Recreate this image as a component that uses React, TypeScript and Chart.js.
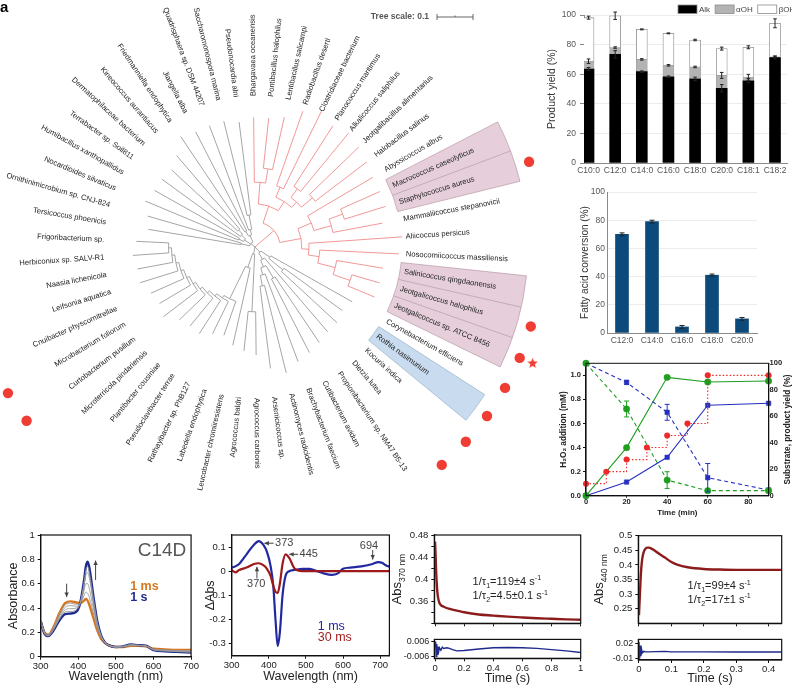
import React, { useEffect, useRef } from 'react';
import { Chart, registerables } from 'chart.js';

Chart.register(...registerables);

const FONT = '"Liberation Sans", Arial, Helvetica, sans-serif';
Chart.defaults.font.family = FONT;

// ---------------- DATA: phylogenetic tree ----------------
const TREE_LEAVES = [
  'Tersicoccus phoenicis', 'Ornithinimicrobium sp. CNJ-824', 'Nocardioides silvaticus', 'Humibacillus xanthopallidus',
  'Terrabacter sp. Soil811', 'Dermatophilaceae bacterium', 'Kineococcus aurantiacus', 'Friedmanniella endophytica',
  'Jiangella alba', 'Quadrisphaera sp. DSM 44207', 'Saccharomonospora marina', 'Pseudonocardia alni',
  'Bhargavaea oceanensis', 'Pontibacillus halophilus', 'Lentibacillus salicampi', 'Radiobacillus deserti',
  'Clostridiaceae bacterium', 'Planococcus maritimus', 'Alkalicoccus saliphilus', 'Jeotgalibacillus alimentarius',
  'Halobacillus salinus', 'Abyssicoccus albus', 'Macrococcus caseolyticus', 'Staphylococcus aureus',
  'Mammaliicoccus stepanovicii', 'Aliicoccus persicus', 'Nosocomiicoccus massiliensis', 'Salinicoccus qingdaonensis',
  'Jeotgalicoccus halophilus', 'Jeotgalicoccus sp. ATCC 8456', 'Corynebacterium efficiens', 'Rothia nasimurium',
  'Kocuria indica', 'Dietzia lutea', 'Propionibacterium sp. NM47 B5-13', 'Cutibacterium avidum',
  'Brachybacterium faecium', 'Actinomyces radicidentis', 'Arsenicicoccus sp.', 'Agrococcus carbonis',
  'Agrococcus baldri', 'Leucobacter chromiiresistens', 'Labedella endophytica', 'Rathayibacter sp. PhB127',
  'Pseudoclavibacter terrae', 'Plantibacter cousiniae', 'Microterricola pindariensis', 'Curtobacterium pusillum',
  'Microbacterium foliorum', 'Cnuibacter physcomitrellae', 'Leifsonia aquatica', 'Naasia lichenicola',
  'Herbiconiux sp. SALV-R1', 'Frigoribacterium sp.',
];
// Newick clades (leaf = index into TREE_LEAVES, branch lengths in substitutions/site)
const CLADE_ACTINO_A = '((0:0.26,1:0.27):0.025,((2:0.28,3:0.27):0.015,(4:0.27,(5:0.25,6:0.27):0.015):0.015):0.02,((7:0.32,8:0.31):0.015,(9:0.31,(10:0.27,11:0.26):0.04):0.015):0.02):0.015';
const CLADE_BACILLOTA = '(((12:0.18,(13:0.14,14:0.15):0.04):0.06,((15:0.22,16:0.24):0.03,((17:0.2,18:0.21):0.03,(19:0.19,20:0.18):0.04):0.02):0.03):0.05,((21:0.21,((22:0.12,23:0.12):0.04,24:0.14):0.05):0.04,(25:0.26,(26:0.22,(27:0.13,(28:0.08,29:0.08):0.05):0.05):0.03):0.02):0.06):0.07';
const CLADE_ACTINO_B = '((30:0.26,(31:0.2,32:0.21):0.05):0.03,(33:0.27,((34:0.22,35:0.23):0.04,(36:0.26,(37:0.25,38:0.23):0.03):0.02):0.02):0.02):0.02';
const CLADE_MICROBACT = '((39:0.12,40:0.11):0.16,(41:0.22,(42:0.1,(43:0.1,(44:0.11,(45:0.1,(46:0.1,(47:0.12,(48:0.1,(49:0.1,(50:0.11,(51:0.1,(52:0.1,53:0.09):0.008):0.008):0.008):0.008):0.008):0.008):0.008):0.008):0.008):0.008):0.1):0.04):0.02';
const TREE_NEWICK = '(' + [CLADE_ACTINO_A, CLADE_BACILLOTA, CLADE_ACTINO_B, CLADE_MICROBACT].join(',') + ');';
const RED_CLADE_FIRST = 'Bhargavaea oceanensis';
const RED_CLADE_LAST = 'Jeotgalicoccus sp. ATCC 8456';
const PINK_RANGES = [['Macrococcus caseolyticus', 'Staphylococcus aureus'], ['Salinicoccus qingdaonensis', 'Jeotgalicoccus sp. ATCC 8456']];
const BLUE_RANGES = [['Rothia nasimurium', 'Rothia nasimurium']];
const DOT_LEAVES = ['Staphylococcus aureus', 'Jeotgalicoccus halophilus', 'Jeotgalicoccus sp. ATCC 8456', 'Corynebacterium efficiens',
  'Rothia nasimurium', 'Kocuria indica', 'Dietzia lutea', 'Curtobacterium pusillum', 'Microbacterium foliorum'];
const STAR_LEAVES = ['Jeotgalicoccus sp. ATCC 8456'];
const TREE_SCALE = 0.1;

// ---------------- DATA: product yield ----------------
const FA_CATEGORIES = ['C10:0', 'C12:0', 'C14:0', 'C16:0', 'C18:0', 'C20:0', 'C18:1', 'C18:2'];
const ALK = [63.5, 73.4, 61.7, 58.3, 56.8, 50.5, 55.6, 71.2];
const ALPHA_OH = [5.3, 4.6, 8.3, 7.7, 8.1, 8.7, 2.3, 0.6];
const BETA_OH = [29.4, 21.5, 20.3, 21.6, 18.2, 18.1, 20.3, 22.6];
const ALK_ERR = [1, 2.5, 0.5, 0.5, 1.2, 2.5, 1.5, 1];
const ALPHA_OH_ERR = [1.5, 0.5, 0.5, 0.5, 0.5, 2, 2, 0.5];
const BETA_OH_ERR = [1, 2.5, 0.3, 0.3, 0.5, 1, 1, 3];

// ---------------- DATA: conversion ----------------
const CONV_CATEGORIES = ['C12:0', 'C14:0', 'C16:0', 'C18:0', 'C20:0'];
const CONVERSION = [70, 79, 4.3, 41, 10];
const CONVERSION_ERR = [1, 1, 1, 0.8, 1];

// ---------------- DATA: H2O2 time course ----------------
const TIME_MIN = [0, 20, 40, 60, 90];
const H2O2_TIME = [0, 10, 20, 30, 40, 50, 60, 90];
const H2O2_ADDED = [0.1, 0.2, 0.3, 0.4, 0.5, 0.6, 1.0, 1.0];
const GREEN_PRODUCT = [0, 36.3, 89.4, 85.9, 86.6];
const GREEN_SUBSTRATE = [100, 65.5, 11.8, 3.8, 3.8];
const GREEN_SUBSTRATE_ERR = [0, 6, 6.3, 0, 0];
const BLUE_PRODUCT = [0, 10.3, 29, 68.3, 69.8];
const BLUE_SUBSTRATE = [100, 85.6, 63, 13.6, 4.3];
const BLUE_SUBSTRATE_ERR = [0, 1.5, 6, 10.7, 0];

// ---------------- DATA: spectra ----------------
const WAVELENGTH_NM = [300, 310, 320, 335, 350, 365, 380, 395, 405, 415, 420, 425, 430, 440, 450, 460, 470, 480, 500, 520, 540, 560, 580, 600, 630, 660, 700];
const ABS_1MS = [0.29, 0.2, 0.18, 0.25, 0.36, 0.44, 0.455, 0.445, 0.44, 0.46, 0.475, 0.46, 0.42, 0.32, 0.22, 0.15, 0.115, 0.095, 0.08, 0.08, 0.09, 0.09, 0.085, 0.065, 0.06, 0.055, 0.055];
const ABS_MID_1 = [0.29, 0.2, 0.18, 0.245, 0.35, 0.425, 0.44, 0.43, 0.44, 0.5, 0.53, 0.52, 0.48, 0.36, 0.24, 0.16, 0.118, 0.095, 0.08, 0.082, 0.092, 0.091, 0.086, 0.062, 0.056, 0.051, 0.05];
const ABS_MID_2 = [0.29, 0.2, 0.175, 0.24, 0.335, 0.405, 0.42, 0.415, 0.44, 0.54, 0.6, 0.6, 0.55, 0.4, 0.26, 0.17, 0.12, 0.095, 0.08, 0.083, 0.094, 0.092, 0.087, 0.06, 0.052, 0.047, 0.045];
const ABS_MID_3 = [0.29, 0.195, 0.173, 0.232, 0.32, 0.385, 0.395, 0.4, 0.44, 0.58, 0.67, 0.69, 0.64, 0.45, 0.28, 0.175, 0.12, 0.095, 0.08, 0.084, 0.097, 0.093, 0.088, 0.058, 0.049, 0.044, 0.04];
const ABS_MID_4 = [0.29, 0.19, 0.171, 0.226, 0.31, 0.368, 0.372, 0.385, 0.44, 0.6, 0.71, 0.74, 0.68, 0.48, 0.29, 0.178, 0.12, 0.095, 0.08, 0.085, 0.099, 0.094, 0.089, 0.056, 0.047, 0.042, 0.037];
const ABS_1S = [0.29, 0.19, 0.17, 0.22, 0.3, 0.35, 0.355, 0.37, 0.44, 0.62, 0.74, 0.78, 0.72, 0.5, 0.3, 0.18, 0.12, 0.095, 0.08, 0.085, 0.1, 0.095, 0.09, 0.055, 0.045, 0.04, 0.035];

const DIFF_WL = [300, 310, 320, 340, 360, 373, 385, 395, 405, 412, 418, 424, 430, 437, 445, 455, 470, 490, 510, 530, 550, 570, 585, 600, 620, 650, 680, 695, 705, 715, 725];
const DIFF_1MS = [0.015, 0.02, 0.03, 0.07, 0.11, 0.125, 0.11, 0.08, 0.02, -0.06, -0.2, -0.31, -0.25, -0.1, -0.02, 0.0, 0.005, 0.01, 0.01, 0.0, -0.01, -0.015, -0.01, 0.01, 0.015, 0.02, 0.03, 0.038, 0.035, 0.025, 0.018];
const DIFF_30MS = [0.005, -0.005, 0.005, 0.015, 0.03, 0.033, 0.025, 0.01, -0.02, -0.06, -0.085, -0.09, -0.05, 0.03, 0.07, 0.055, 0.01, 0.0, 0.0, 0.0, 0.0, 0.0, 0.0, 0.0, 0.0, 0.0, 0.0, 0.0, 0.0, 0.0, 0.0];

// ---------------- DATA: kinetics ----------------
const T370 = [0, 0.003, 0.006, 0.01, 0.015, 0.02, 0.03, 0.04, 0.06, 0.1, 0.15, 0.2, 0.3, 0.4, 0.5, 0.6, 0.7, 0.8, 0.9, 1.0];
const A370 = [0.468, 0.45, 0.425, 0.4, 0.38, 0.368, 0.357, 0.353, 0.35, 0.346, 0.343, 0.34, 0.336, 0.334, 0.332, 0.3305, 0.3292, 0.3282, 0.3272, 0.3265];
const RT370 = [0, 0.004, 0.008, 0.012, 0.016, 0.02, 0.025, 0.03, 0.04, 0.05, 0.06, 0.08, 0.1, 0.12, 0.15, 0.2, 0.3, 0.4, 0.5, 0.6, 0.7, 0.8, 0.9, 1.0];
const R370 = [0.002, 0.006, -0.006, 0.004, -0.004, 0.002, -0.002, 0.001, -0.001, 0.0015, 0.0005, 0.001, 0.0005, -0.0005, -0.0015, -0.0012, 0.0, 0.001, 0.0012, 0.001, 0.0005, -0.0005, -0.0015, -0.0028];
const T440 = [0, 0.003, 0.006, 0.01, 0.015, 0.02, 0.025, 0.03, 0.04, 0.05, 0.06, 0.08, 0.1, 0.12, 0.15, 0.2, 0.25, 0.3, 0.35, 0.4, 0.44];
const A440 = [0.228, 0.3, 0.37, 0.42, 0.445, 0.455, 0.459, 0.459, 0.455, 0.448, 0.44, 0.425, 0.41, 0.4, 0.392, 0.386, 0.384, 0.383, 0.383, 0.383, 0.383];
const RT440 = [0, 0.002, 0.004, 0.006, 0.008, 0.01, 0.015, 0.02, 0.03, 0.05, 0.08, 0.1, 0.15, 0.2, 0.3, 0.44];
const R440 = [0.022, -0.01, 0.015, -0.005, 0.008, 0.001, 0.004, 0.003, 0.003, 0.0035, 0.004, 0.003, 0.003, 0.003, 0.0028, 0.0028];

// ---------------- layout ----------------
const BOXES: Record<string, number[]> = {
  tree: [0, 0, 548, 510],
  yield: [538, 0, 254, 180],
  conv: [570, 180, 200, 170],
  h2o2: [555, 355, 237, 165],
  abs: [0, 525, 200, 162],
  diff: [195, 525, 200, 162],
  k370: [390, 525, 200, 107],
  r370: [390, 632, 200, 55],
  k440: [590, 525, 202, 107],
  r440: [590, 632, 202, 55],
};
const TREE_START_DEG = 170.6;
const TREE_PX_PER_UNIT = 360;
const LABEL_R = 151;
const SECTOR_R = [147, 273];
const DOT_R = 287;
const STAR_R = 301;

// ---------------- helpers ----------------
const fixedTicks = (values: number[]) => (s: any) => { s.ticks = values.map((v) => ({ value: v })); };
const fitW = (w: number) => (s: any) => { s.width = w; };
const fitH = (h: number) => (s: any) => { s.height = h; };
const fmt = (v: any) => String(Math.round(Number(v) * 10000) / 10000);
const rad = (d: number) => (d * Math.PI) / 180;
const leafAngle = (k: number) => rad(TREE_START_DEG - (360 / TREE_LEAVES.length) * k);

function parseNewick(s: string) {
  let i = 0;
  const node = (): any => {
    const n: any = { len: 0, children: [] };
    if (s[i] === '(') {
      i++;
      n.children.push(node());
      while (s[i] === ',') { i++; n.children.push(node()); }
      i++;
    } else {
      let t = '';
      while (/[0-9]/.test(s[i])) t += s[i++];
      n.leaf = parseInt(t, 10);
    }
    if (s[i] === ':') {
      i++;
      let t = '';
      while (/[0-9.eE\-]/.test(s[i])) t += s[i++];
      n.len = parseFloat(t);
    }
    return n;
  };
  return node();
}

function buildTree() {
  const root = parseNewick(TREE_NEWICK);
  const ra = TREE_LEAVES.indexOf(RED_CLADE_FIRST);
  const rb = TREE_LEAVES.indexOf(RED_CLADE_LAST);
  const walk = (n: any, r0: number) => {
    n.r = r0 + n.len;
    if (n.leaf !== undefined) { n.a = leafAngle(n.leaf); n.lo = n.hi = n.leaf; }
    else {
      n.children.forEach((c: any) => walk(c, n.r));
      const f = n.children[0], l = n.children[n.children.length - 1];
      n.a = (f.a + l.a) / 2; n.lo = f.lo; n.hi = l.hi;
    }
    n.red = n.lo >= ra && n.hi <= rb;
  };
  walk(root, 0);
  return root;
}

function starCanvas(size: number, color: string) {
  const c = document.createElement('canvas');
  c.width = size; c.height = size;
  const g = c.getContext('2d')!;
  g.fillStyle = color;
  g.beginPath();
  for (let i = 0; i < 10; i++) {
    const r = i % 2 === 0 ? size / 2 : size / 4.6;
    const a = -Math.PI / 2 + (i * Math.PI) / 5;
    g.lineTo(size / 2 + r * Math.cos(a), size / 2 + r * Math.sin(a));
  }
  g.closePath(); g.fill();
  return c;
}

function drawRich(ctx: any, x: number, y: number, parts: any[], size: number, color: string, align = 'left', weight = '') {
  ctx.save();
  ctx.fillStyle = color;
  ctx.textBaseline = 'alphabetic';
  ctx.textAlign = 'left';
  const fontFor = (m: string) => `${weight} ${m === 'n' ? size : size * 0.65}px ${FONT}`;
  let total = 0;
  parts.forEach(([t, m]) => { ctx.font = fontFor(m); total += ctx.measureText(t).width; });
  let cx = align === 'center' ? x - total / 2 : x;
  parts.forEach(([t, m]) => {
    ctx.font = fontFor(m);
    const dy = m === 'sub' ? size * 0.28 : m === 'sup' ? -size * 0.42 : 0;
    ctx.fillText(t, cx, y + dy);
    cx += ctx.measureText(t).width;
  });
  ctx.restore();
}

function arrow(ctx: any, x1: number, y1: number, x2: number, y2: number, color = '#444') {
  ctx.save();
  ctx.strokeStyle = color; ctx.fillStyle = color; ctx.lineWidth = 1;
  ctx.beginPath(); ctx.moveTo(x1, y1); ctx.lineTo(x2, y2); ctx.stroke();
  const ang = Math.atan2(y2 - y1, x2 - x1), h = 5;
  ctx.beginPath(); ctx.moveTo(x2, y2);
  ctx.lineTo(x2 - h * Math.cos(ang - 0.45), y2 - h * Math.sin(ang - 0.45));
  ctx.lineTo(x2 - h * Math.cos(ang + 0.45), y2 - h * Math.sin(ang + 0.45));
  ctx.closePath(); ctx.fill();
  ctx.restore();
}

const framePlugin = {
  id: 'frame',
  afterDatasetsDraw(chart: any, _a: any, opts: any) {
    const { ctx, chartArea: a } = chart;
    ctx.save();
    ctx.strokeStyle = (opts && opts.color) || '#111';
    ctx.lineWidth = (opts && opts.width) || 1.2;
    ctx.strokeRect(a.left, a.top, a.right - a.left, a.bottom - a.top);
    ctx.restore();
  },
};

const errorBarPlugin = {
  id: 'errbars',
  afterDatasetsDraw(chart: any) {
    const ctx = chart.ctx;
    chart.data.datasets.forEach((ds: any, di: number) => {
      if (!ds.errors) return;
      const meta = chart.getDatasetMeta(di);
      const ys = chart.scales[meta.yAxisID];
      ctx.save();
      ctx.strokeStyle = ds.errorColor || '#000';
      ctx.lineWidth = 1;
      const cap = ds.errorCap || 2.5;
      meta.data.forEach((el: any, i: number) => {
        const e = ds.errors[i];
        if (!e) return;
        const d = Math.abs(ys.getPixelForValue(e) - ys.getPixelForValue(0));
        const x = el.x, y = el.y;
        ctx.beginPath();
        ctx.moveTo(x, y - d); ctx.lineTo(x, y + d);
        ctx.moveTo(x - cap, y - d); ctx.lineTo(x + cap, y - d);
        ctx.moveTo(x - cap, y + d); ctx.lineTo(x + cap, y + d);
        ctx.stroke();
      });
      ctx.restore();
    });
  },
};

function baseOptions(pad: any, scales: any, plugins: any = {}) {
  return {
    animation: false, responsive: false, devicePixelRatio: 1, events: [],
    layout: { padding: pad, autoPadding: false },
    plugins: { legend: { display: false }, tooltip: { enabled: false }, ...plugins },
    scales,
  };
}

function frameAxis(o: any) {
  return {
    type: 'linear', position: o.position, min: o.min, max: o.max, display: true,
    afterBuildTicks: fixedTicks(o.ticks),
    afterFit: o.horizontal ? fitH(o.size) : fitW(o.size),
    ticks: {
      display: o.labels !== false, color: '#222', font: { size: o.fontSize || 9.5 }, padding: o.pad ?? 2,
      maxRotation: 0, autoSkip: false,
      callback: o.callback || ((v: any) => (o.major && !o.major.includes(v) ? '' : fmt(v))),
    },
    grid: { display: true, drawOnChartArea: false, drawTicks: true, tickLength: o.tickLen ?? 4, tickColor: '#111', tickWidth: 1 },
    border: { display: true, color: '#111', width: 1.2 },
    title: o.title
      ? { display: true, text: o.title, color: '#222', font: { size: o.titleSize || 12.5, weight: o.titleWeight || 'normal' }, padding: o.titlePad || { top: 4, bottom: 4 } }
      : { display: false },
  };
}

const pts = (xs: number[], ys: number[]) => xs.map((x, i) => ({ x, y: ys[i] }));
function curve(xs: number[], ys: number[], color: string, width: number, smooth = true, extra: any = {}) {
  return {
    data: pts(xs, ys), showLine: true, borderColor: color, borderWidth: width, pointRadius: 0,
    tension: smooth ? 0.4 : 0, cubicInterpolationMode: smooth ? 'monotone' : 'default', ...extra,
  };
}

// ---------------- chart configs ----------------
function treeConfig() {
  const root = buildTree();
  const GREY = '#9b9b9b', RED = '#f08c8c';
  const polar = (r: number, name: string) => {
    const a = leafAngle(TREE_LEAVES.indexOf(name));
    return { x: r * Math.cos(a), y: r * Math.sin(a) };
  };
  const treePlugin = {
    id: 'tree',
    beforeDatasetsDraw(chart: any) {
      const { ctx } = chart;
      const xs = chart.scales.x, ys = chart.scales.y;
      const cx = xs.getPixelForValue(0), cy = ys.getPixelForValue(0);
      const k = xs.getPixelForValue(1) - xs.getPixelForValue(0);
      const P = (r: number, a: number) => [cx + r * k * Math.cos(a), cy - r * k * Math.sin(a)];
      const step = rad(360 / TREE_LEAVES.length);
      ctx.save();
      const sector = (range: string[], fill: string, edge: string) => {
        const k0 = TREE_LEAVES.indexOf(range[0]), k1 = TREE_LEAVES.indexOf(range[1]);
        const a0 = leafAngle(k0) + step / 2, a1 = leafAngle(k1) - step / 2;
        ctx.beginPath();
        ctx.arc(cx, cy, SECTOR_R[1] * k, -a0, -a1, false);
        ctx.arc(cx, cy, SECTOR_R[0] * k, -a1, -a0, true);
        ctx.closePath();
        ctx.fillStyle = fill; ctx.fill();
        ctx.strokeStyle = edge; ctx.lineWidth = 0.7; ctx.stroke();
        for (let j = k0 + 1; j <= k1; j++) {
          const a = leafAngle(j) + step / 2;
          const p0 = P(SECTOR_R[0], a), p1 = P(SECTOR_R[1], a);
          ctx.beginPath(); ctx.moveTo(p0[0], p0[1]); ctx.lineTo(p1[0], p1[1]); ctx.stroke();
        }
      };
      PINK_RANGES.forEach((r) => sector(r, '#e6cfda', '#b89aa8'));
      BLUE_RANGES.forEach((r) => sector(r, '#c9dcef', '#98b0c8'));
      ctx.lineWidth = 0.9;
      const U = TREE_PX_PER_UNIT;
      const drawNode = (n: any) => {
        if (!n.children.length) return;
        const f = n.children[0], l = n.children[n.children.length - 1];
        if (n.r > 0) {
          ctx.strokeStyle = n.red ? RED : GREY;
          ctx.beginPath(); ctx.arc(cx, cy, n.r * U * k, -f.a, -l.a, false); ctx.stroke();
        }
        n.children.forEach((c: any) => {
          ctx.strokeStyle = c.red ? RED : GREY;
          const p0 = P(n.r * U, c.a), p1 = P(c.r * U, c.a);
          ctx.beginPath(); ctx.moveTo(p0[0], p0[1]); ctx.lineTo(p1[0], p1[1]); ctx.stroke();
          drawNode(c);
        });
      };
      drawNode(root);
      ctx.fillStyle = '#222';
      ctx.font = `7.6px ${FONT}`;
      ctx.textBaseline = 'middle';
      TREE_LEAVES.forEach((name, i) => {
        const a = leafAngle(i);
        const p = P(LABEL_R, a);
        ctx.save();
        ctx.translate(p[0], p[1]);
        if (Math.cos(a) > -0.05) { ctx.rotate(-a); ctx.textAlign = 'left'; }
        else { ctx.rotate(-a + Math.PI); ctx.textAlign = 'right'; }
        ctx.fillText(name, 0, 0);
        ctx.restore();
      });
      ctx.font = `bold 8.5px ${FONT}`;
      ctx.fillStyle = '#555';
      ctx.textAlign = 'right';
      ctx.fillText(`Tree scale: ${TREE_SCALE}`, 429, 17);
      const x0 = 437, x1 = x0 + TREE_SCALE * U * k;
      ctx.strokeStyle = '#555'; ctx.lineWidth = 0.9;
      ctx.beginPath();
      ctx.moveTo(x0, 17); ctx.lineTo(x1, 17);
      ctx.moveTo(x0, 14); ctx.lineTo(x0, 20);
      ctx.moveTo(x1, 14); ctx.lineTo(x1, 20);
      ctx.moveTo((x0 + x1) / 2, 15.5); ctx.lineTo((x0 + x1) / 2, 17);
      ctx.stroke();
      ctx.fillStyle = '#000';
      ctx.font = `bold 15px ${FONT}`;
      ctx.textAlign = 'left';
      ctx.textBaseline = 'alphabetic';
      ctx.fillText('a', 0, 12);
      ctx.restore();
    },
  };
  return {
    type: 'scatter',
    data: {
      datasets: [
        { data: DOT_LEAVES.map((n) => polar(DOT_R, n)), pointRadius: 5.2, pointBackgroundColor: '#ef3d33', pointBorderWidth: 0, clip: false },
        { data: STAR_LEAVES.map((n) => polar(STAR_R, n)), pointStyle: starCanvas(11, '#ef3d33'), pointRadius: 6, clip: false },
      ],
    },
    options: baseOptions(0, {
      x: { type: 'linear', display: false, min: -255, max: 293 },
      y: { type: 'linear', display: false, min: -263, max: 247 },
    }),
    plugins: [treePlugin],
  };
}

function yieldConfig() {
  const legendPlugin = {
    id: 'yieldLegend',
    afterDraw(chart: any) {
      const { ctx, chartArea } = chart;
      ctx.save();
      ctx.font = `8px ${FONT}`;
      ctx.textBaseline = 'middle';
      let x = chartArea.left + 94;
      chart.data.datasets.forEach((ds: any) => {
        ctx.fillStyle = ds.backgroundColor;
        ctx.fillRect(x, 5, 19, 8.5);
        ctx.strokeStyle = '#8c8c8c'; ctx.lineWidth = 0.8;
        ctx.strokeRect(x, 5, 19, 8.5);
        x += 21;
        ctx.fillStyle = '#444';
        ctx.fillText(ds.label, x, 9.5);
        x += ctx.measureText(ds.label).width + 5;
      });
      ctx.restore();
    },
  };
  const mk = (label: string, vals: number[], errs: number[], bg: string, border: string, bw: number) => ({
    label, data: vals.map((y, i) => ({ x: i, y })), backgroundColor: bg, borderColor: border, borderWidth: bw,
    barThickness: 11, errors: errs, errorColor: '#222', errorCap: 1.8,
  });
  return {
    type: 'bar',
    data: {
      datasets: [
        mk('Alk', ALK, ALK_ERR, '#000000', '#000000', 0),
        mk('αOH', ALPHA_OH, ALPHA_OH_ERR, '#b3b3b3', '#9a9a9a', 0.6),
        mk('βOH', BETA_OH, BETA_OH_ERR, '#ffffff', '#8c8c8c', 0.8),
      ],
    },
    options: baseOptions({ left: 0, right: 5, top: 15, bottom: 0 }, {
      x: {
        type: 'linear', stacked: true, min: -0.17, max: 7.45, offset: false,
        afterBuildTicks: fixedTicks(FA_CATEGORIES.map((_, i) => i)),
        afterFit: fitH(17),
        ticks: { color: '#555', font: { size: 8.5 }, padding: 3, maxRotation: 0, autoSkip: false, callback: (v: any) => FA_CATEGORIES[v] ?? '' },
        grid: { display: false, drawTicks: false },
        border: { display: true, color: '#8a8a8a', width: 1 },
      },
      y: {
        stacked: true, min: 0, max: 100,
        afterBuildTicks: fixedTicks([0, 20, 40, 60, 80, 100]),
        afterFit: fitW(46),
        ticks: { color: '#555', font: { size: 8.5 }, padding: 4 },
        grid: { color: '#ececec', drawTicks: true, tickLength: 4, tickColor: '#8a8a8a' },
        border: { display: true, color: '#8a8a8a', width: 1 },
        title: { display: true, text: 'Product yield (%)', color: '#333', font: { size: 10.5 }, padding: { top: 8, bottom: 0 } },
      },
    }),
    plugins: [errorBarPlugin, legendPlugin],
  };
}

function convConfig() {
  return {
    type: 'bar',
    data: {
      labels: CONV_CATEGORIES,
      datasets: [{ data: CONVERSION, backgroundColor: '#0b4a7a', barThickness: 13, errors: CONVERSION_ERR, errorColor: '#222', errorCap: 2.5 }],
    },
    options: baseOptions({ left: 0, right: 13, top: 12, bottom: 0 }, {
      x: {
        afterFit: fitH(17),
        ticks: { color: '#555', font: { size: 8.5 }, padding: 3, maxRotation: 0 },
        grid: { display: false, drawTicks: false },
        border: { display: true, color: '#8a8a8a', width: 1 },
      },
      y: {
        min: 0, max: 100,
        afterBuildTicks: fixedTicks([0, 20, 40, 60, 80, 100]),
        afterFit: fitW(37),
        ticks: { color: '#555', font: { size: 8.5 }, padding: 2 },
        grid: { color: '#ececec', drawTicks: false },
        border: { display: true, color: '#8a8a8a', width: 1 },
        title: { display: true, text: 'Fatty acid conversion (%)', color: '#333', font: { size: 10 }, padding: { top: 9, bottom: 0 } },
      },
    }),
    plugins: [errorBarPlugin],
  };
}

function h2o2Config() {
  const GREEN = '#1f9e1f', BLUE = '#2530c0', RED = '#ee2a2a';
  const line = (ys: number[], color: string, dashed: boolean, style: string, errs?: number[]) => ({
    data: pts(TIME_MIN, ys), yAxisID: 'y2', showLine: true, borderColor: color, borderWidth: 1.1,
    borderDash: dashed ? [4, 3] : [], pointStyle: style, pointRadius: 3.2, pointBackgroundColor: color,
    pointBorderColor: color, pointBorderWidth: 0.5, clip: false, errors: errs, errorColor: color, errorCap: 2.5,
  });
  const rightTitle = {
    id: 'rightTitle',
    afterDraw(chart: any) {
      const { ctx, chartArea: a } = chart;
      ctx.save();
      ctx.translate(chart.width - 4.5, (a.top + a.bottom) / 2);
      ctx.rotate(-Math.PI / 2);
      ctx.font = `bold 8.3px ${FONT}`;
      ctx.fillStyle = '#222';
      ctx.textAlign = 'center';
      ctx.textBaseline = 'middle';
      ctx.fillText('Substrate, product yield (%)', 0, 0);
      ctx.restore();
    },
  };
  return {
    type: 'scatter',
    data: {
      datasets: [
        {
          data: pts(H2O2_TIME, H2O2_ADDED), yAxisID: 'y', showLine: true, stepped: 'before', borderColor: RED,
          borderWidth: 1.1, borderDash: [1.5, 2], pointRadius: 3, pointBackgroundColor: RED, pointBorderWidth: 0, clip: false,
        },
        line(GREEN_SUBSTRATE, GREEN, true, 'circle', GREEN_SUBSTRATE_ERR),
        line(BLUE_SUBSTRATE, BLUE, true, 'rect', BLUE_SUBSTRATE_ERR),
        line(GREEN_PRODUCT, GREEN, false, 'circle'),
        line(BLUE_PRODUCT, BLUE, false, 'rect'),
      ],
    },
    options: baseOptions({ left: 0, right: 0, top: 8.3, bottom: 0 }, {
      x: {
        ...frameAxis({ min: 0, max: 90, ticks: [0, 20, 40, 60, 80], horizontal: true, size: 24.3, tickLen: 2, pad: 0, title: 'Time (min)', titleSize: 8, titleWeight: 'bold', titlePad: { top: 0, bottom: 2 } }),
        position: 'bottom',
      },
      y: {
        ...frameAxis({ min: 0, max: 1.1, ticks: [0, 0.2, 0.4, 0.6, 0.8, 1.0], size: 31, tickLen: 3, pad: 2, callback: (v: any) => Number(v).toFixed(1), title: 'H₂O₂ addition (mM)', titleSize: 8.3, titleWeight: 'bold', titlePad: { top: 3.5, bottom: 0 } }),
        position: 'left',
      },
      y2: {
        ...frameAxis({ min: 0, max: 100, ticks: [0, 20, 40, 60, 80, 100], size: 23.4, tickLen: 0, pad: 1 }),
        position: 'right',
      },
    }, { frame: { color: '#111', width: 1 } }),
    plugins: [framePlugin, errorBarPlugin, rightTitle],
  };
}

function setTickFont(cfg: any, size: number, weight: string) {
  Object.values(cfg.options.scales).forEach((s: any) => { s.ticks.font = { size, weight }; });
  return cfg;
}

function absConfig() {
  const ann = {
    id: 'annAbs',
    afterDatasetsDraw(chart: any) {
      const { ctx } = chart;
      const X = (v: number) => chart.scales.x.getPixelForValue(v);
      const Y = (v: number) => chart.scales.y.getPixelForValue(v);
      ctx.save();
      ctx.textBaseline = 'middle'; ctx.textAlign = 'left';
      ctx.font = `19px ${FONT}`; ctx.fillStyle = '#555';
      ctx.fillText('C14D', X(558), Y(0.87));
      ctx.font = `bold 12.5px ${FONT}`;
      ctx.fillStyle = '#d7761f'; ctx.fillText('1 ms', X(538), Y(0.575));
      ctx.fillStyle = '#1f2b8f'; ctx.fillText('1 s', X(538), Y(0.487));
      ctx.restore();
      arrow(ctx, X(369), Y(0.6), X(369), Y(0.49), '#444');
      arrow(ctx, X(446), Y(0.63), X(446), Y(0.79), '#444');
    },
  };
  const greys = [ABS_MID_1, ABS_MID_2, ABS_MID_3, ABS_MID_4].map((v) => curve(WAVELENGTH_NM, v, '#9a9a9a', 0.9));
  return {
    type: 'scatter',
    data: {
      datasets: [...greys, curve(WAVELENGTH_NM, ABS_1S, '#1f2b8f', 2.4), curve(WAVELENGTH_NM, ABS_1MS, '#d7761f', 2.4)],
    },
    options: baseOptions({ left: 0, right: 7.3, top: 10, bottom: 0 }, {
      x: { ...frameAxis({ min: 300, max: 700, ticks: [300, 400, 500, 600, 700], horizontal: true, size: 30.3, tickLen: 3, pad: 1, title: 'Wavelength (nm)', titlePad: { top: 0, bottom: 3 } }), position: 'bottom' },
      y: { ...frameAxis({ min: 0, max: 1, ticks: [0, 0.2, 0.4, 0.6, 0.8, 1], size: 40.7, tickLen: 3, pad: 3, title: 'Absorbance', titlePad: { top: 6, bottom: 0 } }), position: 'left' },
    }),
    plugins: [framePlugin, ann],
  };
}

function diffConfig() {
  const ann = {
    id: 'annDiff',
    afterDatasetsDraw(chart: any) {
      const { ctx } = chart;
      const X = (v: number) => chart.scales.x.getPixelForValue(v);
      const Y = (v: number) => chart.scales.y.getPixelForValue(v);
      ctx.save();
      ctx.textBaseline = 'middle'; ctx.textAlign = 'left';
      ctx.font = `11px ${FONT}`; ctx.fillStyle = '#444';
      ctx.fillText('373', X(417), Y(0.116));
      ctx.fillText('445', X(483), Y(0.07));
      ctx.textAlign = 'center';
      ctx.fillText('694', X(670), Y(0.103));
      ctx.fillText('370', X(366), Y(-0.053));
      ctx.textAlign = 'left';
      ctx.font = `12.5px ${FONT}`;
      ctx.fillStyle = '#2229a0'; ctx.fillText('1 ms', X(532), Y(-0.228));
      ctx.fillStyle = '#9e1a1a'; ctx.fillText('30 ms', X(532), Y(-0.276));
      ctx.restore();
      arrow(ctx, X(413), Y(0.116), X(388), Y(0.116));
      arrow(ctx, X(479), Y(0.07), X(455), Y(0.07));
      arrow(ctx, X(680), Y(0.088), X(680), Y(0.048));
      arrow(ctx, X(368), Y(-0.03), X(368), Y(0.018));
    },
  };
  return {
    type: 'scatter',
    data: { datasets: [curve(DIFF_WL, DIFF_30MS, '#9e1a1a', 2.2), curve(DIFF_WL, DIFF_1MS, '#2229a0', 2.2)] },
    options: baseOptions({ left: 0, right: 5.6, top: 10, bottom: 0 }, {
      x: { ...frameAxis({ min: 300, max: 725, ticks: [300, 400, 500, 600, 700], horizontal: true, size: 31.3, tickLen: 3, pad: 1, title: 'Wavelength (nm)', titlePad: { top: 0, bottom: 3 } }), position: 'bottom' },
      y: { ...frameAxis({ min: -0.35, max: 0.15, ticks: [-0.3, -0.2, -0.1, 0, 0.1], size: 36.7, tickLen: 3, pad: 3, title: 'ΔAbs', titlePad: { top: 8, bottom: 0 } }), position: 'left' },
    }),
    plugins: [framePlugin, ann],
  };
}

function kineticMainConfig(o: any) {
  const ann = {
    id: 'annKin',
    afterDatasetsDraw(chart: any) {
      const { ctx } = chart;
      const X = (v: number) => chart.scales.x.getPixelForValue(v);
      const Y = (v: number) => chart.scales.y.getPixelForValue(v);
      drawRich(ctx, X(o.textX), Y(o.textY1) + 4, o.line1, 11, '#222');
      drawRich(ctx, X(o.textX), Y(o.textY2) + 4, o.line2, 11, '#222');
      ctx.save();
      const a = chart.chartArea;
      ctx.translate(o.titleX, (a.top + a.bottom) / 2);
      ctx.rotate(-Math.PI / 2);
      drawRich(ctx, 0, 0, [['Abs', 'n'], [o.sub, 'sub']], 13, '#222', 'center');
      ctx.restore();
    },
  };
  return {
    type: 'scatter',
    data: { datasets: [curve(o.t, o.a, '#8c1c1c', 2.4)] },
    options: baseOptions({ left: 0, right: o.padR, top: o.padT, bottom: 0 }, {
      x: { ...frameAxis({ min: o.xmin, max: o.xmax, ticks: o.xticks, horizontal: true, size: o.xh, tickLen: 3, labels: false }), position: 'bottom' },
      y: { ...frameAxis({ min: o.ymin, max: o.ymax, ticks: o.yticks, major: o.ymajor, size: o.yw, tickLen: 3, pad: 3 }), position: 'left' },
    }),
    plugins: [framePlugin, ann],
  };
}

function residualConfig(o: any) {
  return {
    type: 'scatter',
    data: { datasets: [curve(o.t, o.r, '#1f2a8c', 1.4, false)] },
    options: baseOptions({ left: 0, right: o.padR, top: o.padT, bottom: 0 }, {
      x: { ...frameAxis({ min: o.xmin, max: o.xmax, ticks: o.xticks, horizontal: true, size: o.xh, tickLen: 3, pad: 1, title: 'Time (s)', titlePad: { top: 0, bottom: 1 } }), position: 'bottom' },
      y: { ...frameAxis({ min: o.ymin, max: o.ymax, ticks: o.yticks, size: o.yw, tickLen: 3, pad: 2, fontSize: 9 }), position: 'left' },
    }),
    plugins: [framePlugin],
  };
}

export default function App() {
  const refs = useRef<Record<string, HTMLCanvasElement | null>>({});
  useEffect(() => {
    const charts: any[] = [];
    const make = (key: string, cfg: any) => {
      const c = refs.current[key];
      if (c) charts.push(new Chart(c, cfg));
    };
    make('tree', treeConfig());
    make('yield', yieldConfig());
    make('conv', convConfig());
    make('h2o2', setTickFont(h2o2Config(), 7.5, 'bold'));
    make('abs', absConfig());
    make('diff', diffConfig());
    make('k370', kineticMainConfig({
      t: T370, a: A370, xmin: -0.005, xmax: 1, xticks: [0, 0.2, 0.4, 0.6, 0.8, 1], xh: 2,
      ymin: 0.32, ymax: 0.48, yticks: [0.32, 0.34, 0.36, 0.38, 0.4, 0.42, 0.44, 0.46, 0.48], ymajor: [0.36, 0.4, 0.44, 0.48],
      yw: 44.3, padR: 9.3, padT: 10, titleX: 11,
      textX: 0.258, textY1: 0.397, textY2: 0.371, sub: '370 nm',
      line1: [['1/τ', 'n'], ['1', 'sub'], ['=119±4 s', 'n'], ['-1', 'sup']],
      line2: [['1/τ', 'n'], ['2', 'sub'], ['=4.5±0.1 s', 'n'], ['-1', 'sup']],
    }));
    make('r370', residualConfig({
      t: RT370, r: R370, xmin: -0.005, xmax: 1, xticks: [0, 0.2, 0.4, 0.6, 0.8, 1], xh: 28.7,
      ymin: -0.0075, ymax: 0.0078, yticks: [-0.006, 0.006], yw: 44.3, padR: 9.3, padT: 3,
    }));
    make('k440', kineticMainConfig({
      t: T440, a: A440, xmin: -0.002, xmax: 0.44, xticks: [0, 0.1, 0.2, 0.3, 0.4], xh: 3.7,
      ymin: 0.2, ymax: 0.5, yticks: [0.25, 0.3, 0.35, 0.4, 0.45, 0.5], ymajor: null,
      yw: 48.3, padR: 10.3, padT: 10.7, titleX: 13,
      textX: 0.15, textY1: 0.33, textY2: 0.283, sub: '440 nm',
      line1: [['1/τ', 'n'], ['1', 'sub'], ['=99±4 s', 'n'], ['-1', 'sup']],
      line2: [['1/τ', 'n'], ['2', 'sub'], ['=17±1 s', 'n'], ['-1', 'sup']],
    }));
    make('r440', residualConfig({
      t: RT440, r: R440, xmin: -0.002, xmax: 0.44, xticks: [0, 0.1, 0.2, 0.3, 0.4], xh: 27,
      ymin: -0.0125, ymax: 0.027, yticks: [-0.01, 0.02], yw: 48.3, padR: 10.3, padT: 3.7,
    }));
    return () => charts.forEach((c) => c.destroy());
  }, []);
  return (
    <div style={{ position: 'fixed', left: 0, top: 0, width: 792, height: 687, background: '#fff', overflow: 'hidden' }}>
      {Object.entries(BOXES).map(([k, b]) => (
        <canvas
          key={k}
          ref={(el) => { refs.current[k] = el; }}
          width={b[2]}
          height={b[3]}
          style={{ position: 'absolute', left: b[0], top: b[1], width: b[2], height: b[3] }}
        />
      ))}
    </div>
  );
}
